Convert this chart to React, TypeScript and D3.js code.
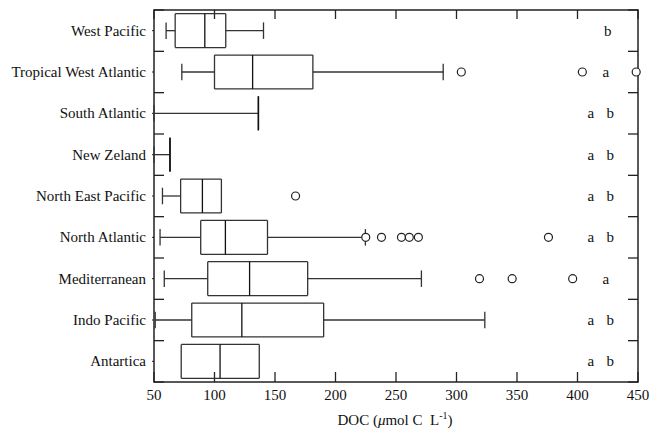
import React from "react";
import * as d3 from "d3";

const categories = [
  "West Pacific",
  "Tropical West Atlantic",
  "South Atlantic",
  "New Zeland",
  "North East Pacific",
  "North Atlantic",
  "Mediterranean",
  "Indo Pacific",
  "Antartica",
];
const mins = [60, 73, 50, 50, 57, 55, 58.5, 51, 72.5];
const q1s = [67.5, 100, 136.3, 63.2, 72, 88.6, 94.4, 81.2, 72.5];
const medians = [92, 131.5, 136.3, 63.2, 90, 109, 129, 122.6, 104.6];
const q3s = [109.3, 181.3, 136.3, 63.2, 105.7, 143.8, 177, 190.2, 137];
const maxs = [140.5, 289, 136.3, 63.2, 105.7, 224.7, 271, 323.4, 137];
const outliers: number[][] = [
  [],
  [304, 404, 448.5],
  [],
  [],
  [167],
  [225, 238, 254.5, 261, 268.5, 376],
  [319, 346, 396],
  [],
  [],
];
const letters = ["b", "a", "a b", "a b", "a b", "a b", "a", "a b", "a b"];
const xTicks = [50, 100, 150, 200, 250, 300, 350, 400, 450];

const W = 651;
const H = 433;
const M = { left: 154, right: 638, top: 10, bottom: 382 };
const FONT = "'Liberation Serif', 'Times New Roman', serif";
const STROKE = "#333";

export default function App() {
  const x = d3.scaleLinear().domain([50, 450]).range([M.left, M.right]);
  const y = d3.scaleBand().domain(categories).range([M.top, M.bottom]);
  const bw = y.bandwidth();
  const boxH = bw * 0.82;
  const capH = bw * 0.4;
  const bounds = d3.range(categories.length + 1).map((i) => M.top + i * bw);

  return (
    <svg
      width={W}
      height={H}
      style={{ position: "absolute", left: 0, top: 0, background: "#fff" }}
      fontFamily={FONT}
    >
      <rect x={0} y={0} width={W} height={H} fill="#fff" />
      {/* frame */}
      <rect
        x={M.left}
        y={M.top}
        width={M.right - M.left}
        height={M.bottom - M.top}
        fill="none"
        stroke="#222"
        strokeWidth={1.5}
      />
      {/* y band ticks */}
      {bounds.map((b, i) => (
        <g key={"yt" + i}>
          <line x1={M.left} x2={M.left + 10} y1={b} y2={b} stroke="#222" strokeWidth={1.3} />
          <line x1={M.right} x2={M.right - 10} y1={b} y2={b} stroke="#222" strokeWidth={1.3} />
        </g>
      ))}
      {categories.map((c) => (
        <line
          key={"ct" + c}
          x1={M.left}
          x2={M.left - 2}
          y1={(y(c) as number) + bw / 2}
          y2={(y(c) as number) + bw / 2}
          stroke="#222"
        />
      ))}
      {/* x ticks */}
      {xTicks.map((t) => (
        <g key={"xt" + t}>
          <line x1={x(t)} x2={x(t)} y1={M.bottom} y2={M.bottom - 10} stroke="#222" strokeWidth={1.3} />
          <line x1={x(t)} x2={x(t)} y1={M.top} y2={M.top + 9} stroke="#222" strokeWidth={1.3} />
          <text x={x(t)} y={400} textAnchor="middle" fontSize={15} fill="#111">
            {t}
          </text>
        </g>
      ))}
      {/* category labels */}
      {categories.map((c) => (
        <text
          key={"cl" + c}
          x={146}
          y={(y(c) as number) + bw / 2 + 5}
          textAnchor="end"
          fontSize={15}
          fill="#111"
        >
          {c}
        </text>
      ))}
      {/* boxes */}
      {categories.map((c, i) => {
        const cy = (y(c) as number) + bw / 2;
        const top = cy - boxH / 2;
        const bot = cy + boxH / 2;
        const xl = x(q1s[i]);
        const xr = x(q3s[i]);
        return (
          <g key={"bx" + c} stroke={STROKE} strokeWidth={1.3} fill="none">
            {mins[i] < q1s[i] && (
              <>
                <line x1={x(mins[i])} x2={xl} y1={cy} y2={cy} />
                <line x1={x(mins[i])} x2={x(mins[i])} y1={cy - capH / 2} y2={cy + capH / 2} />
              </>
            )}
            {maxs[i] > q3s[i] && (
              <>
                <line x1={xr} x2={x(maxs[i])} y1={cy} y2={cy} />
                <line x1={x(maxs[i])} x2={x(maxs[i])} y1={cy - capH / 2} y2={cy + capH / 2} />
              </>
            )}
            <line x1={xl} x2={xl} y1={top} y2={bot} />
            <line x1={xr} x2={xr} y1={top} y2={bot} />
            <line x1={xl} x2={xr} y1={top} y2={top} />
            <line x1={xl} x2={xr} y1={bot} y2={bot} />
            <line x1={x(medians[i])} x2={x(medians[i])} y1={top} y2={bot} stroke="#111" />
            {outliers[i].map((o, j) => (
              <circle key={j} cx={x(o)} cy={cy} r={4} fill="#fff" stroke="#222" strokeWidth={1.2} />
            ))}
          </g>
        );
      })}
      {/* group letters */}
      {categories.map((c, i) => {
        const cy = (y(c) as number) + bw / 2 + 5;
        const l = letters[i];
        if (l === "a b") {
          return (
            <g key={"lt" + c} fontSize={15} fill="#111" textAnchor="middle">
              <text x={x(411)} y={cy}>a</text>
              <text x={x(427)} y={cy}>b</text>
            </g>
          );
        }
        return (
          <text key={"lt" + c} x={x(l === "a" ? 423.5 : 425)} y={cy} fontSize={15} fill="#111" textAnchor="middle">
            {l}
          </text>
        );
      })}
      {/* x axis title */}
      <text x={395} y={425} textAnchor="middle" fontSize={15} fill="#111">
        {"DOC ("}
        <tspan fontStyle="italic">{"\u03bc"}</tspan>
        {"mol C\u00a0\u00a0L"}
        <tspan dy={-6} fontSize={10}>-1</tspan>
        <tspan dy={6}>)</tspan>
      </text>
    </svg>
  );
}
